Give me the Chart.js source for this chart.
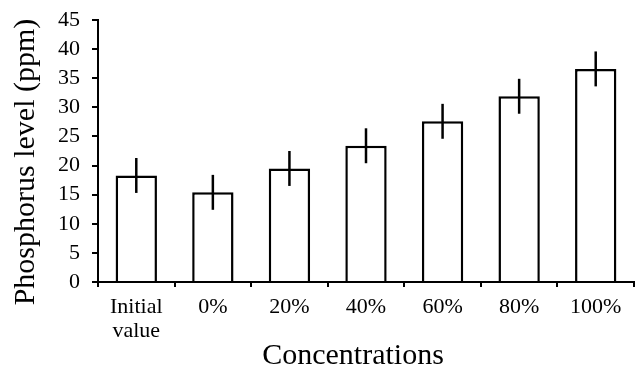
<!DOCTYPE html>
<html>
<head>
<meta charset="utf-8">
<script src="https://cdn.jsdelivr.net/npm/chart.js@4.4.1/dist/chart.umd.min.js"></script>
<style>
  html, body { margin: 0; padding: 0; background: #fff; }
  #wrap { width: 635px; height: 369px; }
</style>
</head>
<body>
<div id="wrap"><canvas id="c" width="635" height="369"></canvas></div>
<script>
// Phosphorus level by concentration (ppm), with standard error
const categories = [['Initial', 'value'], '0%', '20%', '40%', '60%', '80%', '100%'];
const phosphorus = [18.3, 15.4, 19.5, 23.4, 27.6, 31.9, 36.6];
const errors = [3.0, 3.0, 3.0, 3.0, 3.0, 3.0, 3.0];
const yTicks = [0, 5, 10, 15, 20, 25, 30, 35, 40, 45];
const xTitle = 'Concentrations';
const yTitle = 'Phosphorus level (ppm)';

const serif = "'Liberation Serif', 'Times New Roman', serif";

// Draws vertical error bars (no caps) through each bar top
const errorBars = {
  id: 'errorBars',
  afterDatasetsDraw(chart) {
    const ctx = chart.ctx;
    const y = chart.scales.y;
    const meta = chart.getDatasetMeta(0);
    ctx.save();
    ctx.strokeStyle = '#000';
    ctx.lineWidth = 2.5;
    meta.data.forEach((bar, i) => {
      const v = phosphorus[i], e = errors[i];
      ctx.beginPath();
      ctx.moveTo(bar.x, y.getPixelForValue(v + e));
      ctx.lineTo(bar.x, y.getPixelForValue(v - e));
      ctx.stroke();
    });
    ctx.restore();
  }
};

// Axis titles, placed in the space reserved by the scales
const axisTitles = {
  id: 'axisTitles',
  afterDraw(chart) {
    const { ctx, chartArea } = chart;
    ctx.save();
    ctx.fillStyle = '#000';
    ctx.font = '30px ' + serif;
    ctx.textAlign = 'center';
    ctx.textBaseline = 'alphabetic';
    const cx = (chartArea.left + chartArea.right) / 2 - 13;
    ctx.fillText(xTitle, cx, chart.height - 5);
    const cy = (chartArea.top + chartArea.bottom) / 2 + 11;
    ctx.translate(34, cy);
    ctx.rotate(-Math.PI / 2);
    ctx.fillText(yTitle, 0, 0);
    ctx.restore();
  }
};

new Chart(document.getElementById('c'), {
  type: 'bar',
  data: {
    labels: categories,
    datasets: [{
      data: phosphorus,
      backgroundColor: '#fff',
      borderColor: '#000',
      borderWidth: 2.5,
      borderSkipped: 'start',
      categoryPercentage: 1,
      barPercentage: 0.54
    }]
  },
  options: {
    responsive: false,
    animation: false,
    devicePixelRatio: 1,
    layout: { padding: { top: 20, right: 1, bottom: 0, left: 0 } },
    plugins: {
      legend: { display: false },
      tooltip: { enabled: false }
    },
    scales: {
      x: {
        afterFit(scale) {
          scale.height = 87;
          scale.paddingLeft = 0;
          scale.paddingRight = 0;
        },
        grid: {
          offset: true,
          drawOnChartArea: false,
          drawTicks: true,
          tickLength: 5,
          color: '#000',
          lineWidth: 2
        },
        border: { display: true, color: '#000', width: 2 },
        ticks: {
          color: '#000',
          font: { family: serif, size: 22, lineHeight: 1.1 },
          padding: 8,
          maxRotation: 0,
          autoSkip: false
        }
      },
      y: {
        min: 0,
        max: 45,
        afterBuildTicks(scale) { scale.ticks = yTicks.map(v => ({ value: v })); },
        afterFit(scale) {
          scale.width = 98;
          scale.paddingTop = 0;
          scale.paddingBottom = 0;
        },
        grid: {
          drawOnChartArea: false,
          drawTicks: true,
          tickLength: 6,
          color: '#000',
          lineWidth: 2
        },
        border: { display: true, color: '#000', width: 2 },
        ticks: {
          color: '#000',
          font: { family: serif, size: 22 },
          padding: 12,
          autoSkip: false
        }
      }
    }
  },
  plugins: [errorBars, axisTitles]
});
</script>
</body>
</html>
